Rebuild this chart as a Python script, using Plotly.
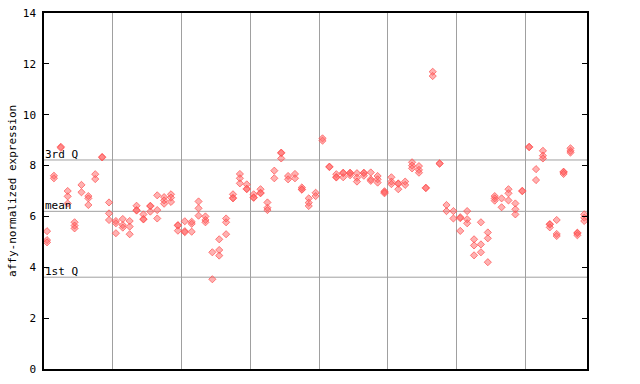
import plotly.graph_objects as go

# sample columns (1..79) and their replicate values
sample_values = [
    [5.42, 5.07, 4.98], [7.60, 7.50], [8.74, 8.70], [7.00, 6.79, 6.51], [5.77, 5.64, 5.53],
    [7.24, 6.95], [6.80, 6.71, 6.45], [7.66, 7.47], [8.34, 8.32], [6.55, 6.12, 5.86],
    [5.82, 5.73, 5.34], [5.90, 5.66, 5.56], [5.82, 5.60, 5.30], [6.42, 6.25, 6.23], [6.08, 5.90, 5.88],
    [6.42, 6.40, 6.19], [6.83, 6.25, 5.92], [6.76, 6.63, 6.50], [6.87, 6.74, 6.57], [5.66, 5.64, 5.44],
    [5.81, 5.42, 5.38], [5.79, 5.71, 5.40], [6.59, 6.32, 6.03], [6.00, 5.86, 5.77], [4.59, 3.53],
    [5.10, 4.68, 4.46], [5.92, 5.77, 5.30], [6.87, 6.73, 6.71], [7.67, 7.50, 7.30], [7.26, 7.09, 7.07],
    [6.87, 6.75, 6.73], [7.07, 6.93, 6.91], [6.55, 6.34, 6.25], [7.80, 7.50], [8.51, 8.49, 8.28],
    [7.59, 7.46], [7.67, 7.50], [7.14, 7.07, 7.05], [6.71, 6.54, 6.41], [6.93, 6.80],
    [9.07, 8.98], [7.96, 7.94], [7.66, 7.55, 7.53], [7.72, 7.70, 7.54], [7.72, 7.70, 7.62],
    [7.70, 7.52, 7.37], [7.72, 7.70, 7.60], [7.73, 7.46, 7.40], [7.59, 7.46, 7.33], [6.99, 6.95, 6.91],
    [7.54, 7.37, 7.27], [7.30, 7.28, 7.07], [7.37, 7.24], [8.13, 8.00, 7.89], [7.98, 7.83, 7.72],
    [7.13, 7.11], [11.69, 11.52], [8.09, 8.07], [6.45, 6.21], [6.21, 5.92],
    [5.97, 5.93, 5.43], [6.21, 5.89, 5.73], [5.10, 4.86, 4.47], [5.77, 4.90, 4.59], [5.37, 5.14, 4.20],
    [6.80, 6.71, 6.62], [6.71, 6.36], [7.07, 6.91, 6.63], [6.51, 6.28, 6.08], [7.01, 6.99],
    [8.74, 8.72], [7.86, 7.43], [8.58, 8.39, 8.28], [5.70, 5.68, 5.57], [5.86, 5.31, 5.23],
    [7.76, 7.74, 7.67], [8.68, 8.58, 8.51], [5.36, 5.34, 5.26], [6.08, 5.95, 5.82],
]
sample_index = list(range(1, len(sample_values) + 1))

# reference lines
q3_value = 8.22
mean_value = 6.20
q1_value = 3.61
y_ticks = [0, 2, 4, 6, 8, 10, 12, 14]
group_boundaries = [10.5, 20.5, 30.5, 40.5, 50.5, 60.5, 70.5]

xs, ys = [], []
for i, vals in zip(sample_index, sample_values):
    for v in vals:
        xs.append(i)
        ys.append(v)

MONO = "DejaVu Sans Mono"
fig = go.Figure()
fig.add_trace(go.Scatter(
    x=xs, y=ys, mode="markers",
    marker=dict(symbol="diamond", size=5.5, color="rgba(255,100,100,0.5)",
                line=dict(color="rgba(255,80,80,0.9)", width=0.8)),
    showlegend=False, hoverinfo="y",
))

for val in (q3_value, mean_value, q1_value):
    fig.add_shape(type="line", xref="paper", x0=0, x1=1, yref="y", y0=val, y1=val,
                  line=dict(color="#a0a0a0", width=1), layer="below")

for label, val in (("3rd Q", q3_value), ("mean", mean_value), ("1st Q", q1_value)):
    fig.add_annotation(text=label, xref="paper", x=0, xanchor="left", yref="y", y=val,
                       yanchor="bottom", showarrow=False, borderpad=0, yshift=-2,
                       font=dict(family=MONO, size=11, color="black"))

fig.add_annotation(text="affy-normalized expression", xref="paper", yref="paper",
                   x=-0.059, y=0.5, xanchor="center", yanchor="middle", textangle=-90,
                   showarrow=False, font=dict(family=MONO, size=11, color="black"))

fig.update_layout(
    width=640, height=384,
    margin=dict(l=44, r=53, t=13, b=15, autoexpand=False),
    paper_bgcolor="white", plot_bgcolor="white",
    font=dict(family=MONO, size=11, color="black"),
    xaxis=dict(range=[0.56, 79.4], tickvals=group_boundaries, showticklabels=False,
               ticks="", showgrid=True, gridcolor="#a0a0a0", gridwidth=1, automargin=False,
               showline=True, linecolor="black", linewidth=1.5, mirror=True, zeroline=False),
    yaxis=dict(range=[0, 14], tickvals=y_ticks, ticks="inside", ticklen=5, tickcolor="black",
               showgrid=False, showline=True, linecolor="black", linewidth=1.5, mirror="ticks",
               zeroline=False, automargin=False, ticklabelstandoff=4,
               tickfont=dict(family=MONO, size=11, color="black")),
)

fig.write_html("out.html", config={"displayModeBar": False},
               post_script="document.body.style.margin='0';document.body.style.overflow='hidden';")
